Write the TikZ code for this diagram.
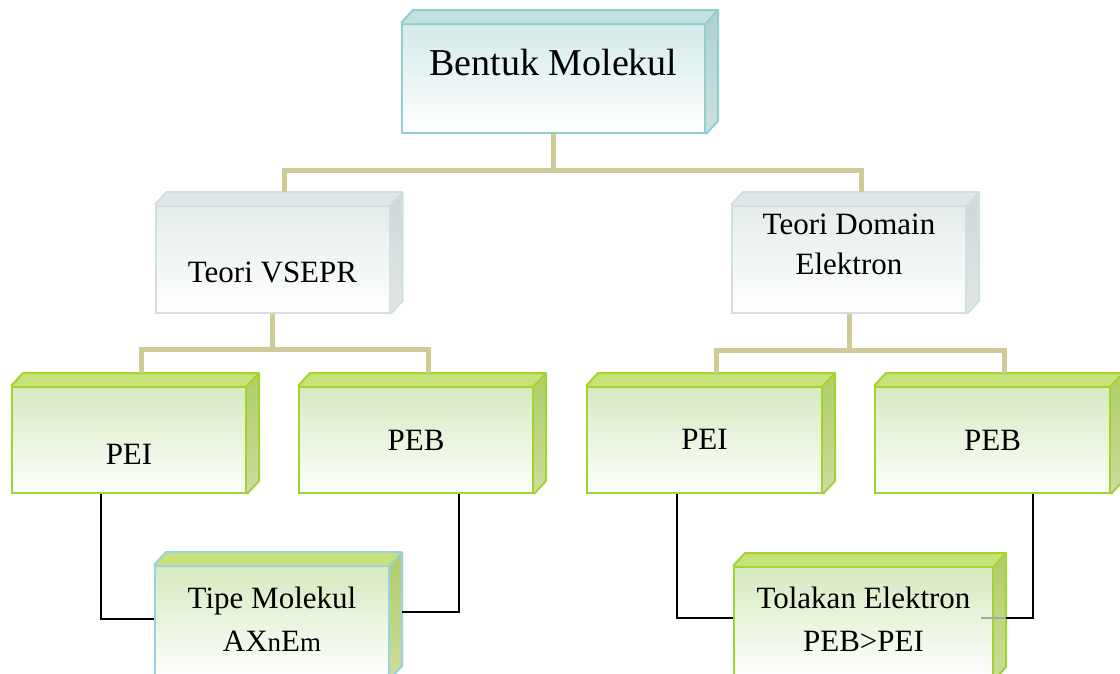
\documentclass[tikz,border=0pt]{standalone}
\usepackage{fontspec}
\setmainfont{Liberation Serif}

\definecolor{tealedge}{HTML}{93CDCD}
\definecolor{tealfront}{HTML}{D4EAEA}
\definecolor{tealtop}{HTML}{C3E1E1}
\definecolor{tealside}{HTML}{AFD0D0}
\definecolor{grayedge}{HTML}{D3DEDF}
\definecolor{grayfront}{HTML}{E5ECEC}
\definecolor{graytop}{HTML}{E1E8E8}
\definecolor{grayside}{HTML}{CFD9D9}
\definecolor{greenedge}{HTML}{A2D42F}
\definecolor{greenfront}{HTML}{D6EABF}
\definecolor{greentop}{HTML}{C8E27A}
\definecolor{greenside}{HTML}{B0CC66}
\definecolor{blueedge}{HTML}{9AD2E2}
\definecolor{stemtan}{HTML}{CECB98}

% top and side faces of a block: name, edge, top face, side face
\newcommand{\blockfaces}[4]{%
  \fill[#3] (#1.north west) -- ++(\dx,-\dy) -- ([shift={(\dx,-\dy)}]#1.north east) -- (#1.north east) -- cycle;
  \shade[top color=#4, bottom color=#4!65!white] (#1.north east) -- ++(\dx,-\dy) -- ([shift={(\dx,-\dy)}]#1.south east) -- (#1.south east) -- cycle;
  \draw[#2, line width=2, line join=round] (#1.north west) -- ++(\dx,-\dy) -- ([shift={(\dx,-\dy)}]#1.north east) -- ([shift={(\dx,-\dy)}]#1.south east) -- (#1.south east) (#1.north east) -- ++(\dx,-\dy);
}

\tikzset{
  block/.style={draw, line width=2, minimum width=234, minimum height=106, inner sep=0},
  tealblock/.style={block, draw=tealedge, top color=tealfront, bottom color=white, minimum width=303, minimum height=109},
  grayblock/.style={block, draw=grayedge, top color=grayfront, bottom color=white, minimum height=107},
  greenblock/.style={block, draw=greenedge, top color=greenfront, bottom color=white},
  txt/.style={inner sep=0, anchor=base, font=\fontsize{31}{40}\selectfont},
  twoline/.style={inner sep=0, align=center, font=\fontsize{31}{#1}\selectfont},
  stem/.style={draw=stemtan, line width=5},
  link/.style={draw=black, line width=1.5},
}

\begin{document}
\begin{tikzpicture}[x=1pt, y=-1pt]
  \def\dx{12}
  \def\dy{13}
  \useasboundingbox (0,0) rectangle (1120,673);

  % blocks
  \node[tealblock] (top) at (553.5,78.5) {};
  \blockfaces{top}{tealedge}{tealtop}{tealside}
  \node[grayblock] (vsepr) at (272.5,259.5) {};
  \blockfaces{vsepr}{grayedge}{graytop}{grayside}
  \node[grayblock] (domain) at (849,259.5) {};
  \blockfaces{domain}{grayedge}{graytop}{grayside}
  \node[greenblock] (pei1) at (129,440) {};
  \blockfaces{pei1}{greenedge}{greentop}{greenside}
  \node[greenblock] (peb1) at (416,440) {};
  \blockfaces{peb1}{greenedge}{greentop}{greenside}
  \node[greenblock, minimum width=235] (pei2) at (704.5,440) {};
  \blockfaces{pei2}{greenedge}{greentop}{greenside}
  \node[greenblock, minimum width=235] (peb2) at (992.5,440) {};
  \blockfaces{peb2}{greenedge}{greentop}{greenside}
  \node[greenblock, draw=blueedge, minimum height=112] (tipe) at (272,622) {};
  \blockfaces{tipe}{blueedge}{greentop}{greenside}
  \node[greenblock, minimum width=259, minimum height=112] (tol) at (863.5,623) {};
  \blockfaces{tol}{greenedge}{greentop}{greenside}

  % texts
  \node[txt, font=\fontsize{38}{46}\selectfont] (topt) at (553.5,75) {Bentuk Molekul};
  \node[txt] (vseprt) at (272.5,282) {Teori VSEPR};
  \node[twoline=40] (domaint) at (849,244.5) {Teori Domain\\Elektron};
  \node[txt] (pei1t) at (129,464) {PEI};
  \node[txt] (peb1t) at (416,450) {PEB};
  \node[txt] (pei2t) at (704.5,449) {PEI};
  \node[txt] (peb2t) at (992.5,450) {PEB};
  \node[twoline=43] (tipet) at (272,619) {Tipe Molekul\\AX{\fontsize{27}{27}\selectfont n}E{\fontsize{27}{27}\selectfont m}};
  \node[twoline=43] (tolt) at (863.5,619) {Tolakan Elektron\\PEB>PEI};

  % tree
  \draw[stem] (top.south) -- (top.south |- 0,170);
  \draw[stem] ([shift={(\dx,-\dy)}]vsepr.north) |- (top.south |- 0,170) -| ([shift={(\dx,-\dy)}]domain.north);
  \draw[stem] (vsepr.south) -- (vsepr.south |- 0,349);
  \draw[stem] ([shift={(\dx,-\dy)}]pei1.north) |- (vsepr.south |- 0,349) -| ([shift={(\dx,-\dy)}]peb1.north);
  \draw[stem] (domain.south) -- (domain.south |- 0,350);
  \draw[stem] ([shift={(\dx,-\dy)}]pei2.north) |- (domain.south |- 0,350) -| ([shift={(\dx,-\dy)}]peb2.north);

  % bottom links
  \draw[link] ([xshift=-28]pei1.south) |- ([shift={(0,-3)}]tipe.west);
  \draw[link] ([xshift=43]peb1.south) |- ([shift={(\dx,-10)}]tipe.east);
  \draw[link] ([xshift=-27.5]pei2.south) |- ([shift={(0,-5)}]tol.west);
  \draw[link] ([xshift=40.5]peb2.south) |- ([shift={(\dx,-5)}]tol.east);
  \draw[gray!70, line width=1.2] ([shift={(-13,-5)}]tol.east) -- ([shift={(\dx,-5)}]tol.east);
\end{tikzpicture}
\end{document}
